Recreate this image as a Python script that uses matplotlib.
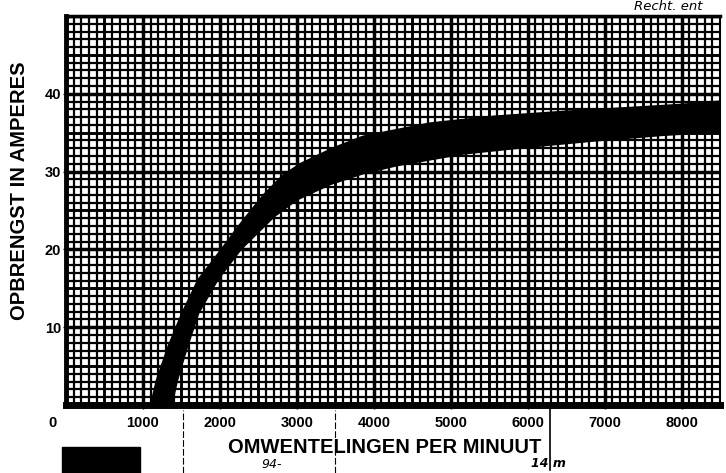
import numpy as np
import matplotlib.pyplot as plt
from matplotlib.patches import Rectangle
from matplotlib.lines import Line2D

# bovenrand en onderrand van de (dikke) curve: toerental -> ampere
rpm_upper = [1080, 1180, 1330, 1510, 1720, 2045, 2230, 2570, 2820, 3050, 3470,
             3860, 4730, 5590, 6460, 7330, 8000, 8600]
amp_upper = [-1.0, 3.2, 7.5, 11.8, 16.1, 20.3, 22.8, 27.0, 29.5, 31.0, 33.0,
             34.5, 36.2, 37.1, 37.7, 38.2, 38.6, 39.1]

rpm_lower = [1350, 1445, 1575, 1720, 1970, 2270, 2700, 3000, 3440, 3870, 4300,
             5160, 6030, 6890, 7760, 8600]
amp_lower = [-1.0, 3.2, 7.5, 11.8, 16.1, 20.0, 24.2, 26.4, 28.4, 29.8, 30.8,
             32.3, 33.2, 34.0, 34.7, 35.2]

x_ticks = [1000, 2000, 3000, 4000, 5000, 6000, 7000, 8000]
x_labels = ['1000', '2000', '3000', '4000', '5000', '6000', '7000', '8000']
y_ticks = [10, 20, 30, 40]
y_labels = ['10', '20', '30', '40']

x_max = 8500
y_max = 50

font = 'Liberation Sans'

W, H = 726, 473
fig = plt.figure(figsize=(W / 100, H / 100), dpi=100)
ax = fig.add_axes([66 / W, 68 / H, 654 / W, 389 / H])
ax.set_xlim(0, x_max)
ax.set_ylim(0, y_max)

# millimeterpapier
for x in np.arange(0, x_max + 1, 100):
    if x % 1000 == 0:
        lw = 2.5
    elif x % 500 == 0:
        lw = 2.1
    else:
        lw = 1.6
    ax.axvline(x, color='black', lw=lw, zorder=1)
for y in np.arange(0, y_max + 1, 1):
    if y % 10 == 0:
        lw = 2.5
    elif y % 5 == 0:
        lw = 2.1
    else:
        lw = 1.6
    ax.axhline(y, color='black', lw=lw, zorder=1)

# de curve als dikke zwarte band
band_x = list(rpm_upper) + list(rpm_lower[::-1])
band_y = list(amp_upper) + list(amp_lower[::-1])
ax.fill(band_x, band_y, color='black', lw=1.5, ec='black', joinstyle='round', zorder=3)

ax.spines['left'].set_linewidth(3.5)
ax.spines['bottom'].set_linewidth(5)
ax.spines['top'].set_linewidth(2.5)
ax.spines['right'].set_linewidth(1.5)
for s in ax.spines.values():
    s.set_zorder(4)

ax.set_xticks(x_ticks)
ax.set_xticklabels(x_labels, fontfamily=font, fontweight='bold', fontsize=10.5)
ax.set_yticks(y_ticks)
ax.set_yticklabels(y_labels, fontfamily=font, fontweight='bold', fontsize=10.5)
ax.tick_params(axis='x', length=3, width=1, pad=5)
ax.tick_params(axis='y', length=2, width=1, pad=1.5)

ax.text(-170, -1.45, '0', ha='center', va='top', fontfamily=font,
        fontweight='bold', fontsize=10.5, clip_on=False)

ax.set_xlabel('OMWENTELINGEN PER MINUUT', fontfamily=font, fontweight='bold',
              fontsize=14.5)
ax.xaxis.set_label_coords((385 - 66) / 654, -(447 - 405) / 389)
ax.xaxis.label.set_va('center')
ax.set_ylabel('OPBRENGST IN AMPERES', fontfamily=font, fontweight='bold',
              fontsize=14.5)
ax.yaxis.set_label_coords((20 - 66) / 654, (405 - 191) / 389)
ax.yaxis.label.set_va('center')

# resten van de scan: zwart blok, vouwlijnen en handschrift
fig.patches.append(Rectangle((62 / W, 0), 78 / W, (473 - 447) / H,
                             transform=fig.transFigure, color='black'))
fig.lines.append(Line2D([183 / W, 183 / W], [0, (473 - 410) / H],
                        transform=fig.transFigure, color='black', lw=0.8, ls=(0, (6, 2))))
fig.lines.append(Line2D([335 / W, 335 / W], [0, (473 - 410) / H],
                        transform=fig.transFigure, color='black', lw=0.8, ls=(0, (6, 2))))
fig.lines.append(Line2D([550 / W, 550 / W], [(473 - 470) / H, (473 - 408) / H],
                        transform=fig.transFigure, color='black', lw=1.2))

fig.text(272 / W, (473 - 464) / H, '94-', fontsize=9, fontstyle='italic',
         ha='center', va='center')
fig.text(548 / W, (473 - 463) / H, '14 m', fontsize=9, fontstyle='italic',
         fontweight='bold', ha='center', va='center')
fig.text(668 / W, (473 - 7) / H, 'Recht. ent', fontsize=9.5, fontstyle='italic',
         ha='center', va='center')

fig.savefig('out.png', dpi=100)
